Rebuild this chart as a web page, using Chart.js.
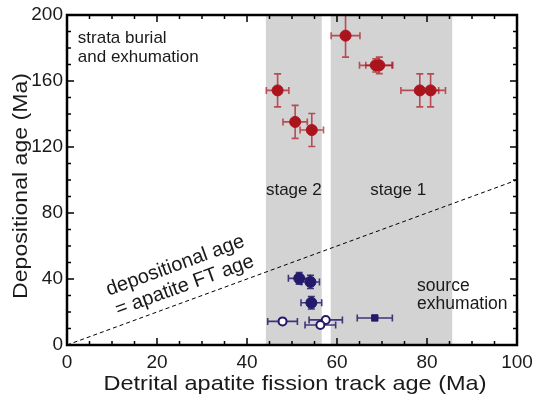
<!DOCTYPE html>
<html>
<head>
<meta charset="utf-8">
<script src="https://cdn.jsdelivr.net/npm/chart.js@4.4.1/dist/chart.umd.min.js"></script>
<style>
  html, body { margin: 0; padding: 0; background: #fff; }
  #wrap { width: 536px; height: 395px; }
</style>
</head>
<body>
<div id="wrap"><canvas id="chart" width="536" height="395"></canvas></div>
<script>
// stage bands (Ma)
const stage2 = [44.2, 56.6];
const stage1 = [58.6, 85.6];

// red: burial / exhumation samples
const redX = [61.9, 68.6, 69.4, 78.4, 80.8, 46.8, 50.7, 54.4];
const redY = [187.5, 169.5, 169.5, 154.3, 154.3, 154.3, 135.2, 130.3];
const redXErr = [3.2, 3.6, 3.0, 4.2, 3.3, 2.5, 2.7, 2.6];
const redYErr = [13, 4, 5, 10, 10, 10, 10, 10];

// blue filled circles
const blueX = [51.6, 54.1, 54.3];
const blueY = [40.4, 38.2, 25.6];
const blueXErr = [2.4, 2.0, 2.3];
const blueYErr = [3.5, 4.0, 3.8];

// blue open circles
const openX = [47.9, 57.5, 56.3];
const openY = [14.3, 15.2, 12.1];
const openXErr = [3.3, 3.7, 3.4];

// blue square
const squareX = [68.4];
const squareY = [16.4];
const squareXErr = [3.9];

const xTitle = 'Detrital apatite fission track age (Ma)';
const yTitle = 'Depositional age (Ma)';

const RED = '#ab131d';
const BLUE = '#231a6b';
const TXT = '#1a1a1a';
const FONT = '"Liberation Sans", Arial, sans-serif';

const pts = (xs, ys, xe, ye) => xs.map((x, i) => ({ x, y: ys[i], xe: xe ? xe[i] : 0, ye: ye ? ye[i] : 0 }));

const bandsPlugin = {
    id: 'bands',
    beforeDatasetsDraw(chart) {
        const { ctx, chartArea, scales: { x } } = chart;
        ctx.save();
        ctx.fillStyle = '#d3d3d3';
        [stage2, stage1].forEach(b => {
            const x0 = x.getPixelForValue(b[0]);
            const x1 = x.getPixelForValue(b[1]);
            ctx.fillRect(x0, chartArea.top, x1 - x0, chartArea.bottom - chartArea.top);
        });
        ctx.restore();
    }
};

const errorBarsPlugin = {
    id: 'errorBars',
    beforeDatasetsDraw(chart) {
        const { ctx, chartArea, scales: { x, y } } = chart;
        ctx.save();
        ctx.beginPath();
        ctx.rect(chartArea.left, chartArea.top, chartArea.right - chartArea.left, chartArea.bottom - chartArea.top);
        ctx.clip();
        chart.data.datasets.forEach(ds => {
            if (!ds.errColor) return;
            ctx.strokeStyle = ds.errColor;
            ctx.lineWidth = 1.6;
            const cap = 3.5;
            ds.data.forEach(p => {
                const px = x.getPixelForValue(p.x);
                const py = y.getPixelForValue(p.y);
                if (p.xe) {
                    const a = x.getPixelForValue(p.x - p.xe);
                    const b = x.getPixelForValue(p.x + p.xe);
                    ctx.beginPath();
                    ctx.moveTo(a, py); ctx.lineTo(b, py);
                    ctx.moveTo(a, py - cap); ctx.lineTo(a, py + cap);
                    ctx.moveTo(b, py - cap); ctx.lineTo(b, py + cap);
                    ctx.stroke();
                }
                if (p.ye) {
                    const a = y.getPixelForValue(p.y - p.ye);
                    const b = y.getPixelForValue(p.y + p.ye);
                    ctx.beginPath();
                    ctx.moveTo(px, a); ctx.lineTo(px, b);
                    ctx.moveTo(px - cap, a); ctx.lineTo(px + cap, a);
                    ctx.moveTo(px - cap, b); ctx.lineTo(px + cap, b);
                    ctx.stroke();
                }
            });
        });
        ctx.restore();
    }
};

const frameAndTextPlugin = {
    id: 'frameText',
    afterDraw(chart) {
        const { ctx, chartArea: ca, scales: { x, y } } = chart;
        ctx.save();
        // inward ticks on all four sides
        ctx.strokeStyle = '#000';
        ctx.lineWidth = 1.5;
        ctx.beginPath();
        for (let v = 0; v <= 100; v += 5) {
            const px = x.getPixelForValue(v);
            const len = v % 20 === 0 ? 7 : 4;
            ctx.moveTo(px, ca.bottom); ctx.lineTo(px, ca.bottom - len);
            ctx.moveTo(px, ca.top); ctx.lineTo(px, ca.top + len);
        }
        for (let v = 0; v <= 200; v += 10) {
            const py = y.getPixelForValue(v);
            const len = v % 40 === 0 ? 7 : 4;
            ctx.moveTo(ca.left, py); ctx.lineTo(ca.left + len, py);
            ctx.moveTo(ca.right, py); ctx.lineTo(ca.right - len, py);
        }
        ctx.stroke();
        ctx.lineWidth = 2.5;
        ctx.strokeRect(ca.left, ca.top, ca.right - ca.left, ca.bottom - ca.top);

        // axis titles (the source figure is slightly stretched along the text)
        ctx.fillStyle = TXT;
        ctx.font = '21px ' + FONT;
        ctx.textAlign = 'center';
        ctx.textBaseline = 'alphabetic';
        ctx.save();
        ctx.translate((ca.left + ca.right) / 2 + 3, 390);
        ctx.scale(1.12, 1);
        ctx.fillText(xTitle, 0, 0);
        ctx.restore();
        ctx.save();
        ctx.translate(27, (ca.top + ca.bottom) / 2 + 6);
        ctx.rotate(-Math.PI / 2);
        ctx.scale(1.1, 1);
        ctx.fillText(yTitle, 0, 0);
        ctx.restore();

        // annotations
        ctx.font = '17px ' + FONT;
        ctx.textBaseline = 'middle';
        ctx.textAlign = 'left';
        ctx.fillText('strata burial', x.getPixelForValue(2.4), y.getPixelForValue(186));
        ctx.fillText('and exhumation', x.getPixelForValue(2.4), y.getPixelForValue(174.5));
        ctx.font = '17.5px ' + FONT;
        ctx.fillText('source', x.getPixelForValue(77.8), y.getPixelForValue(35.8));
        ctx.fillText('exhumation', x.getPixelForValue(77.8), y.getPixelForValue(24.5));
        ctx.font = '17px ' + FONT;
        ctx.textAlign = 'center';
        ctx.fillText('stage 2', x.getPixelForValue(50.4), y.getPixelForValue(94));
        ctx.fillText('stage 1', x.getPixelForValue(73.6), y.getPixelForValue(94));

        ctx.font = '20px ' + FONT;
        ctx.translate(x.getPixelForValue(24.9), y.getPixelForValue(41.8));
        ctx.rotate(-20 * Math.PI / 180);
        ctx.fillText('depositional age', 0, -11);
        ctx.fillText('= apatite FT age', 2, 11);
        ctx.restore();
    }
};

new Chart(document.getElementById('chart'), {
    type: 'scatter',
    data: {
        datasets: [
            {
                type: 'line',
                data: [{ x: 0, y: 0 }, { x: 100, y: 100 }],
                borderColor: '#000',
                borderWidth: 1,
                borderDash: [4, 3],
                pointRadius: 0,
                fill: false
            },
            {
                data: pts(redX, redY, redXErr, redYErr),
                backgroundColor: RED,
                borderColor: RED,
                pointRadius: 5.5,
                errColor: 'rgba(171,19,29,0.7)'
            },
            {
                data: pts(blueX, blueY, blueXErr, blueYErr),
                backgroundColor: BLUE,
                borderColor: BLUE,
                pointRadius: 5.5,
                errColor: 'rgba(35,26,107,0.85)'
            },
            {
                data: pts(openX, openY, openXErr, null),
                backgroundColor: '#fff',
                borderColor: BLUE,
                borderWidth: 2,
                pointRadius: 4,
                errColor: 'rgba(35,26,107,0.85)'
            },
            {
                data: pts(squareX, squareY, squareXErr, null),
                backgroundColor: BLUE,
                borderColor: BLUE,
                pointStyle: 'rect',
                pointRadius: 4.5,
                errColor: 'rgba(35,26,107,0.85)'
            }
        ]
    },
    options: {
        responsive: false,
        animation: false,
        layout: { padding: { top: 15, right: 19, left: 0, bottom: 0 } },
        plugins: { legend: { display: false }, tooltip: { enabled: false } },
        scales: {
            x: {
                type: 'linear',
                min: 0, max: 100,
                grid: { display: false, drawTicks: false },
                border: { display: false },
                ticks: { stepSize: 20, padding: 6, color: TXT, font: { family: FONT, size: 19 } },
                title: { display: false },
                afterFit(s) { s.height = 50; s.paddingLeft = 0; s.paddingRight = 0; }
            },
            y: {
                type: 'linear',
                min: 0, max: 200,
                grid: { display: false, drawTicks: false },
                border: { display: false },
                ticks: { stepSize: 40, padding: 4, color: TXT, font: { family: FONT, size: 19 } },
                title: { display: false },
                afterFit(s) { s.width = 67; s.paddingTop = 0; s.paddingBottom = 0; }
            }
        }
    },
    plugins: [bandsPlugin, errorBarsPlugin, frameAndTextPlugin]
});
</script>
</body>
</html>
